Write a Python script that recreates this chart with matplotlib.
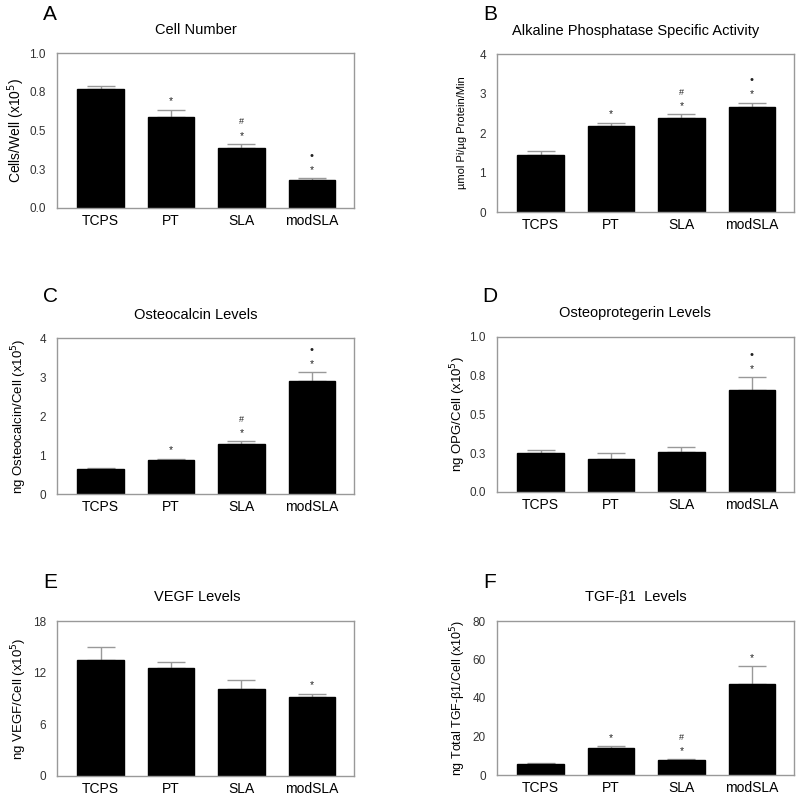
import matplotlib
matplotlib.use("Agg")
import matplotlib.pyplot as plt
import numpy as np

plt.rcParams['font.family'] = ['Liberation Sans', 'DejaVu Sans']

categories = ["TCPS", "PT", "SLA", "modSLA"]

cell_number = [0.77, 0.59, 0.39, 0.18]
cell_number_err = [0.02, 0.044, 0.023, 0.014]

alp_activity = [1.44, 2.17, 2.37, 2.67]
alp_activity_err = [0.10, 0.09, 0.10, 0.10]

osteocalcin = [0.65, 0.865, 1.285, 2.90]
osteocalcin_err = [0.02, 0.035, 0.065, 0.22]

opg = [0.25, 0.21, 0.26, 0.66]
opg_err = [0.022, 0.04, 0.03, 0.08]

vegf = [13.43, 12.54, 10.07, 9.14]
vegf_err = [1.59, 0.74, 1.12, 0.42]

tgfb1 = [5.5, 14.1, 7.6, 47.1]
tgfb1_err = [0.9, 1.0, 0.5, 9.5]

# significance marks (bottom to top)
marks_A = [[], ["*"], ["*", "#"], ["*", "•"]]
marks_B = [[], ["*"], ["*", "#"], ["*", "•"]]
marks_C = [[], ["*"], ["*", "#"], ["*", "•"]]
marks_D = [[], [], [], ["*", "•"]]
marks_E = [[], [], [], ["*"]]
marks_F = [[], ["*"], ["*", "#"], ["*"]]

panels = [
    dict(letter="A", title="Cell Number", ylabel="Cells/Well (x10$^5$)",
         vals=cell_number, err=cell_number_err, marks=marks_A,
         yticks=[0, 0.25, 0.5, 0.75, 1.0], yticklabels=["0.0", "0.3", "0.5", "0.8", "1.0"],
         ylim=(0, 1.0), ylab_fs=10),
    dict(letter="B", title="Alkaline Phosphatase Specific Activity", ylabel="µmol Pi/µg Protein/Min",
         vals=alp_activity, err=alp_activity_err, marks=marks_B,
         yticks=[0, 1, 2, 3, 4], yticklabels=["0", "1", "2", "3", "4"],
         ylim=(0, 4), ylab_fs=8),
    dict(letter="C", title="Osteocalcin Levels", ylabel="ng Osteocalcin/Cell (x10$^5$)",
         vals=osteocalcin, err=osteocalcin_err, marks=marks_C,
         yticks=[0, 1, 2, 3, 4], yticklabels=["0", "1", "2", "3", "4"],
         ylim=(0, 4), ylab_fs=9.5),
    dict(letter="D", title="Osteoprotegerin Levels", ylabel="ng OPG/Cell (x10$^5$)",
         vals=opg, err=opg_err, marks=marks_D,
         yticks=[0, 0.25, 0.5, 0.75, 1.0], yticklabels=["0.0", "0.3", "0.5", "0.8", "1.0"],
         ylim=(0, 1.0), ylab_fs=9.5),
    dict(letter="E", title="VEGF Levels", ylabel="ng VEGF/Cell (x10$^5$)",
         vals=vegf, err=vegf_err, marks=marks_E,
         yticks=[0, 6, 12, 18], yticklabels=["0", "6", "12", "18"],
         ylim=(0, 18), ylab_fs=9.5),
    dict(letter="F", title="TGF-β1  Levels", ylabel="ng Total TGF-β1/Cell (x10$^5$)",
         vals=tgfb1, err=tgfb1_err, marks=marks_F,
         yticks=[0, 20, 40, 60, 80], yticklabels=["0", "20", "40", "60", "80"],
         ylim=(0, 80), ylab_fs=9),
]

W, H = 800, 799
fig = plt.figure(figsize=(8.0, 7.99), dpi=100)

# axes boxes in pixels: (left, top, right, bottom)
boxes = [
    (57, 53, 354, 208),
    (497, 54, 794, 212),
    (57, 338, 354, 494),
    (497, 337, 794, 492),
    (57, 621, 354, 776),
    (497, 621, 794, 775),
]
title_pos = [(196, 30), (636, 31), (196, 315), (635, 313), (197, 597), (636, 597)]
letter_pos = [(50, 15), (490, 15), (50, 297), (490, 297), (50, 583), (490, 583)]
ylabel_x = [27, 467, 29, 468, 29, 468]

gray = "#999999"
x = np.arange(len(categories))

for p, box, tp, lp, yx in zip(panels, boxes, title_pos, letter_pos, ylabel_x):
    l, t, r, b = box
    ax = fig.add_axes([l / W, 1 - b / H, (r - l) / W, (b - t) / H])
    ax.bar(x, p["vals"], width=0.66, color="black", edgecolor="black", zorder=2)
    ax.errorbar(x, p["vals"], yerr=[np.zeros(4), p["err"]], fmt="none",
                ecolor=gray, elinewidth=1, capsize=10, capthick=1, zorder=1)
    for xi, v, e, mk in zip(x, p["vals"], p["err"], p["marks"]):
        for k, m in enumerate(mk):
            fs = 7.5 if m == "*" else (6.5 if m == "#" else 8)
            ax.annotate(m, xy=(xi, v + e), xytext=(0, 6 + 10 * k),
                        textcoords="offset points", ha="center", va="center",
                        fontsize=fs, color="#222222")
    ax.set_xlim(-0.62, 3.6)
    ax.set_ylim(*p["ylim"])
    ax.set_yticks(p["yticks"])
    ax.set_yticklabels(p["yticklabels"], fontsize=8.5, color="#333333")
    ax.set_xticks(x)
    ax.set_xticklabels(categories, fontsize=10)
    ax.tick_params(axis="both", length=0, pad=4)
    ax.tick_params(axis="y", pad=8)
    for s in ax.spines.values():
        s.set_color(gray)
        s.set_linewidth(1)
    ax.set_ylabel(p["ylabel"], fontsize=p["ylab_fs"])
    ax.yaxis.set_label_coords((yx - l) / (r - l), 0.5)
    fig.text(tp[0] / W, 1 - tp[1] / H, p["title"], ha="center", va="center", fontsize=10.5)
    fig.text(lp[0] / W, 1 - lp[1] / H, p["letter"], ha="center", va="center", fontsize=15)

fig.savefig("out.png", dpi=100)
